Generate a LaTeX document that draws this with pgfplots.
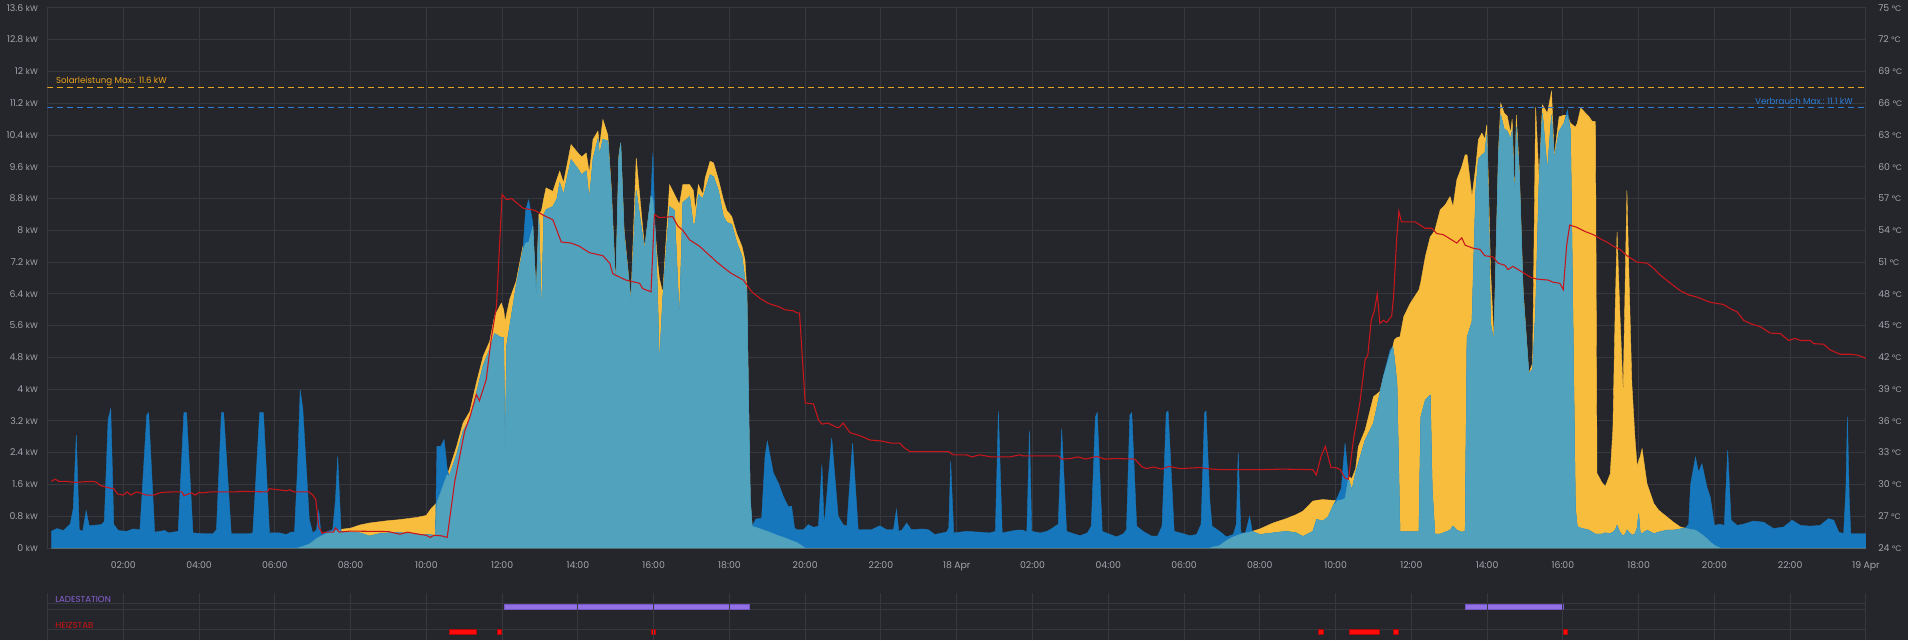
\documentclass[border=0pt]{standalone}
\usepackage{pgfplots}
\pgfplotsset{compat=1.18}
\usepackage{pgfplotstable}
\usepackage{fontspec}
\setmainfont{Poppins}
\definecolor{bg}{HTML}{25262B}
\definecolor{gridc}{HTML}{36383E}
\definecolor{ticktext}{HTML}{A2A5AB}
\definecolor{solar}{HTML}{F9BD3D}
\definecolor{cons}{HTML}{1677BD}
\definecolor{self}{HTML}{50A2BD}
\definecolor{temp}{HTML}{C8161C}
\definecolor{maxsolar}{HTML}{E9A21C}
\definecolor{maxcons}{HTML}{2F7DD5}
\definecolor{ladetext}{HTML}{8A62D6}
\definecolor{ladebar}{HTML}{9470E6}
\definecolor{ladeedge}{HTML}{7358C4}
\definecolor{heiztext}{HTML}{D01212}
\definecolor{heizbar}{HTML}{FF0A0A}
\definecolor{heizedge}{HTML}{B00808}

\pgfplotstableread{
h S C L
0.10 0 0.42 0
0.25 0 0.49 0
0.42 0 0.44 0
0.60 0 0.60 0
0.68 0 1.00 0
0.76 0 2.84 0
0.84 0 0.46 0
0.93 0 0.42 0
1.02 0 0.94 0
1.10 0 0.56 0
1.42 0 0.59 0
1.50 0 0.67 0
1.60 0 3.24 0
1.67 0 3.51 0
1.75 0 0.59 0
1.87 0 0.44 0
2.09 0 0.42 0
2.26 0 0.48 0
2.44 0 0.46 0
2.62 0 3.35 0
2.67 0 3.41 0
2.83 0 0.40 0
3.10 0 0.44 0
3.19 0 0.38 0
3.45 0 0.42 0
3.60 0 3.41 0
3.67 0 3.41 0
3.84 0 0.38 0
4.10 0 0.36 0
4.37 0 0.36 0
4.46 0 0.46 0
4.59 0 3.41 0
4.65 0 3.41 0
4.85 0 0.36 0
5.07 0 0.36 0
5.33 0 0.36 0
5.42 0 0.38 0
5.60 0 3.41 0
5.70 0 3.41 0
5.86 0 0.38 0
6.12 0 0.38 0
6.30 0 0.34 0
6.43 0 0.40 0
6.52 0 0.40 0
6.60 0 2.00 0
6.67 0.02 3.98 0.02
6.74 0.04 3.50 0.04
6.91 0.10 0.72 0.10
7.00 0.16 0.38 0.16
7.10 0.24 0.45 0.24
7.16 0.27 0.93 0.27
7.22 0.30 0.34 0.30
7.35 0.36 0.40 0.36
7.53 0.42 0.46 0.42
7.60 0.44 1.20 0.44
7.66 0.46 2.30 0.46
7.75 0.47 0.42 0.42
8.00 0.50 0.40 0.40
8.25 0.58 0.38 0.38
8.50 0.63 0.30 0.30
8.75 0.66 0.36 0.36
9.00 0.69 0.38 0.38
9.25 0.71 0.40 0.40
9.50 0.74 0.36 0.36
9.75 0.77 0.35 0.35
10.00 0.82 0.34 0.34
10.13 1.00 0.33 0.33
10.24 1.10 0.32 0.32
10.28 1.15 2.56 1.15
10.38 1.40 2.56 1.40
10.47 1.65 2.73 1.65
10.55 1.85 2.00 1.85
10.60 1.97 1.80 1.80
10.80 2.56 2.35 2.35
10.97 3.15 2.95 2.95
11.15 3.44 3.25 3.25
11.32 4.16 3.90 3.90
11.50 4.83 4.60 4.60
11.67 5.20 5.00 5.00
11.80 5.84 5.40 5.40
11.98 6.17 5.30 5.30
12.04 6.00 5.30 5.30
12.08 5.70 2.27 2.27
12.12 5.90 5.10 5.10
12.20 6.26 5.58 5.58
12.37 6.72 6.60 6.60
12.55 7.60 7.50 7.50
12.62 7.68 8.50 7.68
12.70 7.70 8.77 7.70
12.81 8.10 8.19 8.10
12.90 6.40 6.30 6.30
12.97 8.40 8.30 8.30
13.04 8.50 5.80 5.80
13.10 8.80 8.40 8.40
13.16 9.07 8.52 8.52
13.34 8.98 8.60 8.60
13.45 9.30 8.80 8.80
13.52 9.49 9.20 9.20
13.62 9.20 8.90 8.90
13.82 10.16 9.78 9.78
14.00 9.95 9.55 9.55
14.10 9.85 9.40 9.40
14.22 9.95 9.50 9.50
14.30 9.45 8.77 8.77
14.40 10.29 9.80 9.80
14.53 10.50 10.30 10.30
14.57 10.10 9.90 9.90
14.66 10.79 10.29 10.29
14.79 10.40 10.25 10.25
14.88 9.10 9.00 9.00
15.00 6.60 6.50 6.50
15.08 9.87 9.80 9.80
15.13 10.20 10.20 10.20
15.22 8.00 7.90 7.90
15.40 6.26 6.20 6.20
15.54 9.82 9.00 9.00
15.76 7.56 7.50 7.50
15.93 8.86 8.90 8.86
15.98 8.80 9.95 8.80
16.04 8.00 8.00 8.00
16.10 7.26 6.50 6.50
16.15 6.80 4.60 4.60
16.24 6.42 6.30 6.30
16.42 9.15 8.60 8.60
16.55 8.90 8.50 8.50
16.68 8.65 5.75 5.75
16.77 9.15 8.70 8.70
16.95 9.15 8.85 8.85
17.05 9.00 8.10 8.10
17.10 8.50 8.20 8.20
17.18 9.15 8.90 8.90
17.30 8.90 8.80 8.80
17.36 9.32 9.00 9.00
17.49 9.74 9.40 9.40
17.58 9.70 9.35 9.35
17.71 9.28 9.00 9.00
17.84 8.77 8.35 8.35
17.93 8.50 8.20 8.20
18.06 8.35 8.15 8.15
18.19 7.93 7.70 7.70
18.33 7.60 7.35 7.35
18.41 7.26 6.76 6.76
18.46 6.50 6.40 6.40
18.50 4.00 4.00 4.00
18.55 1.20 1.30 1.20
18.60 0.55 0.55 0.55
18.70 0.52 0.73 0.52
18.85 0.47 0.75 0.47
18.94 0.44 2.31 0.44
19.00 0.42 2.69 0.42
19.16 0.36 1.89 0.36
19.29 0.31 1.64 0.31
19.42 0.27 1.30 0.27
19.55 0.22 1.05 0.22
19.64 0.19 1.05 0.19
19.72 0.16 0.50 0.16
19.78 0.14 0.46 0.14
19.95 0.03 0.46 0.03
20.00 0 0.50 0
20.08 0 0.59 0
20.22 0 0.52 0
20.35 0 0.55 0
20.44 0 2.10 0
20.50 0 0.55 0
20.56 0 1.20 0
20.70 0 2.77 0
20.87 0 0.80 0
21.00 0 0.59 0
21.10 0 0.55 0
21.25 0 2.64 0
21.40 0 0.46 0
21.75 0 0.46 0
21.97 0 0.56 0
22.15 0 0.46 0
22.33 0 0.46 0
22.41 0 0.97 0
22.47 0 0.42 0
22.55 0 0.45 0
22.68 0 0.63 0
22.80 0 0.46 0
23.10 0 0.48 0
23.25 0 0.46 0
23.42 0 0.34 0
23.73 0 0.40 0
23.79 0 0.50 0
23.84 0 2.18 0
23.92 0 0.38 0
24.26 0 0.42 0
24.60 0 0.40 0
24.87 0 0.38 0
25.02 0 0.42 0
25.10 0 3.44 0
25.20 0 0.38 0
25.58 0 0.45 0
25.75 0 0.45 0
25.85 0 0.40 0
25.92 0 2.95 0
25.98 0 0.42 0
26.20 0 0.38 0
26.38 0 0.42 0
26.51 0 0.49 0
26.68 0 0.60 0
26.77 0 3.00 0
26.90 0 0.42 0
27.08 0 0.36 0
27.26 0 0.31 0
27.45 0 0.38 0
27.55 0 0.55 0
27.66 0 3.30 0
27.71 0 3.41 0
27.84 0 0.42 0
28.00 0 0.36 0
28.22 0 0.28 0
28.40 0 0.36 0
28.48 0 0.46 0
28.57 0 3.35 0
28.62 0 3.41 0
28.75 0 0.55 0
28.92 0 0.42 0
29.14 0 0.30 0
29.30 0 0.30 0
29.42 0 0.55 0
29.53 0 3.40 0
29.58 0 3.45 0
29.74 0 0.42 0
29.98 0 0.36 0
30.15 0 0.31 0
30.33 0 0.34 0
30.45 0 0.60 0
30.54 0 3.40 0
30.58 0 3.45 0
30.68 0 1.20 0
30.74 0.02 0.55 0.02
30.94 0.06 0.42 0.06
31.12 0.19 0.28 0.19
31.30 0.28 0.34 0.28
31.38 0.31 0.60 0.31
31.43 0.33 2.40 0.33
31.50 0.35 0.38 0.35
31.62 0.38 0.38 0.38
31.73 0.40 0.80 0.40
31.80 0.42 0.42 0.42
32.00 0.48 0.34 0.34
32.35 0.63 0.38 0.38
32.70 0.74 0.42 0.42
32.96 0.84 0.38 0.38
33.14 0.93 0.29 0.29
33.40 1.18 0.42 0.42
33.50 1.20 0.72 0.72
33.66 1.22 0.68 0.68
33.80 1.21 0.78 0.78
33.93 1.20 1.05 1.05
34.06 1.20 1.30 1.20
34.15 1.21 1.50 1.21
34.25 1.25 2.64 1.25
34.34 1.80 1.75 1.75
34.43 1.75 1.46 1.46
34.53 2.00 1.90 1.90
34.60 2.55 2.13 2.13
34.78 2.97 2.72 2.72
35.00 3.81 3.14 3.14
35.17 3.94 3.90 3.90
35.26 4.30 4.32 4.30
35.44 4.90 4.99 4.90
35.51 5.07 5.07 5.07
35.55 5.24 4.80 4.80
35.62 5.30 4.15 4.15
35.70 5.32 0.41 0.41
35.80 5.83 0.41 0.41
35.97 6.16 0.41 0.41
36.20 6.50 0.41 0.41
36.25 6.70 3.30 3.30
36.37 7.34 3.73 3.73
36.50 7.84 3.85 3.85
36.55 7.90 1.50 1.50
36.62 8.00 0.35 0.35
36.76 8.51 0.35 0.35
36.90 8.65 0.40 0.40
37.02 8.85 0.45 0.45
37.10 8.60 0.55 0.55
37.20 9.27 0.45 0.45
37.33 9.60 0.40 0.40
37.42 9.90 0.42 0.42
37.47 9.90 5.30 5.30
37.60 8.85 5.70 5.70
37.70 9.60 9.00 9.00
37.77 10.28 9.80 9.80
37.86 10.45 9.90 9.90
37.94 10.30 9.95 9.95
37.99 10.65 10.40 10.40
38.04 9.00 8.50 8.50
38.09 7.00 5.66 5.66
38.18 5.24 5.20 5.20
38.30 10.00 9.90 9.90
38.36 11.20 10.90 10.90
38.45 10.95 10.55 10.55
38.53 10.88 10.50 10.50
38.62 10.45 10.30 10.30
38.66 10.80 10.50 10.50
38.73 8.77 8.70 8.70
38.77 10.90 10.60 10.60
38.85 9.50 9.40 9.40
38.95 6.50 6.40 6.40
39.10 4.40 4.40 4.40
39.20 4.65 4.50 4.50
39.28 11.10 6.00 6.00
39.37 9.27 9.20 9.20
39.46 11.16 10.95 10.95
39.59 10.95 9.50 9.50
39.70 11.50 10.90 10.90
39.77 9.86 9.80 9.80
39.90 10.86 10.50 10.50
40.03 10.90 10.70 10.70
40.12 10.90 11.03 10.90
40.20 10.70 10.50 10.50
40.33 10.60 1.00 1.00
40.38 10.70 0.54 0.54
40.47 11.08 0.50 0.50
40.69 10.86 0.45 0.45
40.77 10.75 0.40 0.40
40.86 10.74 0.35 0.35
40.90 1.88 0.35 0.35
41.03 1.65 0.35 0.35
41.12 1.55 0.38 0.38
41.25 1.87 0.36 0.36
41.32 3.00 0.40 0.40
41.38 6.00 0.45 0.45
41.43 7.96 0.57 0.57
41.50 6.00 0.40 0.40
41.59 3.89 0.30 0.30
41.65 7.00 0.35 0.35
41.69 9.00 0.45 0.45
41.74 7.00 0.40 0.40
41.82 4.14 0.32 0.32
41.90 2.80 0.35 0.35
41.96 2.04 0.50 0.50
42.00 2.20 0.86 0.86
42.04 2.30 0.40 0.40
42.09 2.50 0.36 0.36
42.22 1.62 0.45 0.45
42.40 1.12 0.36 0.36
42.53 0.95 0.40 0.40
42.75 0.78 0.45 0.45
42.92 0.65 0.45 0.45
43.10 0.53 0.48 0.48
43.23 0.50 0.50 0.50
43.32 0.48 0.60 0.48
43.37 0.47 1.60 0.47
43.50 0.45 2.29 0.45
43.58 0.40 1.91 0.40
43.67 0.34 2.12 0.34
43.80 0.24 1.54 0.24
43.89 0.15 1.28 0.15
44.00 0.07 0.57 0.07
44.15 0 0.60 0
44.26 0 0.57 0
44.35 0 2.46 0
44.44 0 0.70 0
44.60 0 0.57 0
44.77 0 0.60 0
45.03 0 0.68 0
45.30 0 0.65 0
45.56 0 0.49 0
45.83 0 0.53 0
46.05 0 0.70 0
46.27 0 0.57 0
46.53 0 0.55 0
46.79 0 0.57 0
47.01 0 0.74 0
47.15 0 0.70 0
47.28 0 0.40 0
47.41 0 0.36 0
47.47 0 1.50 0
47.51 0 3.30 0
47.56 0 1.20 0
47.60 0 0.36 0
48.00 0 0.36 0
}\powerdata

\pgfplotstableread{
h T
0.10 30.3
0.20 30.5
0.30 30.3
0.50 30.3
0.70 30.2
1.20 30.3
1.30 30.2
1.40 29.9
1.60 29.7
1.75 29.6
1.85 29.1
2.00 29.0
2.10 29.3
2.20 29.0
2.35 29.3
2.45 29.2
2.60 29.0
2.80 29.0
3.00 29.25
3.30 29.3
3.55 29.3
3.60 28.95
3.80 29.2
3.90 29.0
4.00 29.25
4.10 29.2
4.30 29.3
5.00 29.3
5.10 29.35
5.80 29.3
5.85 29.6
6.10 29.5
6.30 29.4
6.40 29.5
6.50 29.3
6.90 29.3
7.00 29.0
7.08 28.6
7.16 26.0
7.25 25.4
7.35 25.5
7.55 25.5
7.60 25.9
7.70 25.5
8.00 25.6
9.00 25.55
9.30 25.3
9.50 25.5
9.80 25.3
10.00 25.2
10.10 25.0
10.20 25.2
10.40 25.15
10.55 25.0
10.75 30.3
11.01 35.0
11.15 36.4
11.32 38.5
11.40 37.9
11.58 39.9
11.71 43.7
11.85 46.8
12.00 57.4
12.11 56.9
12.25 57.0
12.55 56.1
12.85 55.9
13.16 55.3
13.34 55.0
13.56 52.9
13.82 52.8
14.04 52.5
14.30 51.9
14.66 51.6
14.84 50.9
14.92 49.9
15.27 49.3
15.63 49.0
15.71 48.5
15.93 48.2
16.02 55.5
16.15 55.2
16.50 55.3
16.64 54.4
16.77 54.0
16.95 53.1
17.21 52.5
17.67 51.0
18.02 50.0
18.37 49.3
18.59 48.2
18.80 47.6
19.03 47.1
19.29 46.8
19.47 46.5
19.69 46.4
19.78 46.2
19.85 46.2
20.00 37.7
20.22 37.6
20.35 36.1
20.44 35.7
20.60 35.8
20.83 35.4
20.90 35.4
21.00 35.8
21.18 34.9
21.45 34.6
21.71 34.2
22.02 34.1
22.28 33.9
22.50 33.9
22.60 33.5
22.77 33.1
23.12 33.1
23.78 33.1
23.91 32.8
24.26 32.8
24.40 32.6
24.60 32.8
24.92 32.6
25.40 32.6
25.66 32.8
25.76 32.7
26.68 32.7
26.77 32.4
27.00 32.45
27.20 32.6
27.40 32.4
27.70 32.65
27.90 32.4
28.20 32.45
28.70 32.4
28.88 31.7
29.00 31.5
29.20 31.65
29.40 31.45
29.60 31.7
29.90 31.5
30.42 31.6
30.60 31.5
30.94 31.4
32.00 31.4
32.60 31.45
33.40 31.4
33.49 30.9
33.62 32.7
33.73 33.6
33.88 31.6
34.00 31.6
34.12 31.4
34.25 30.6
34.34 30.5
34.47 34.2
34.64 37.7
34.78 41.8
34.85 42.2
34.94 45.5
35.03 46.5
35.10 48.0
35.17 45.2
35.26 45.5
35.35 45.3
35.48 45.9
35.53 47.7
35.61 53.1
35.67 55.8
35.74 54.8
36.10 54.8
36.23 54.5
36.36 54.2
36.54 54.2
36.67 53.7
36.84 53.6
37.02 53.2
37.20 52.8
37.33 53.3
37.42 52.6
37.64 52.3
37.81 52.2
37.94 51.6
38.15 51.5
38.29 50.9
38.47 50.7
38.55 50.3
38.68 50.6
38.91 50.1
39.13 49.6
39.31 49.4
39.62 49.3
39.74 49.1
39.92 49.0
40.01 48.4
40.10 52.6
40.18 54.5
40.36 54.3
40.58 53.9
40.80 53.6
40.99 53.2
41.16 52.9
41.33 52.5
41.51 52.2
41.69 51.6
41.96 51.0
42.22 50.9
42.40 50.4
42.53 49.9
42.84 49.0
43.10 48.3
43.32 47.9
43.54 47.7
43.89 47.2
44.24 47.0
44.42 46.6
44.60 46.3
44.77 45.5
44.95 45.2
45.21 44.9
45.47 44.3
45.74 44.25
45.96 43.6
46.13 43.8
46.27 43.6
46.53 43.6
46.62 43.3
46.88 43.25
47.06 42.7
47.32 42.3
47.59 42.3
47.80 42.2
48.00 41.9
}\tempdata

\begin{document}
\begin{tikzpicture}
\path[use as bounding box, fill=bg] (-35.625pt,-69pt) rectangle (1395.375pt,411pt);

% ---------- main power axis ----------
\begin{axis}[
  at={(0pt,0pt)}, anchor=south west,
  scale only axis, width=1363.875pt, height=405pt,
  xmin=0, xmax=48, ymin=0, ymax=13.6,
  axis line style={draw=gridc, line width=0.75pt},
  grid=major, grid style={draw=gridc, line width=0.75pt},
  tick style={draw=none},
  xtick={2,4,6,8,10,12,14,16,18,20,22,24,26,28,30,32,34,36,38,40,42,44,46,48},
  xticklabels={02:00,04:00,06:00,08:00,10:00,12:00,14:00,16:00,18:00,20:00,22:00,18 Apr,02:00,04:00,06:00,08:00,10:00,12:00,14:00,16:00,18:00,20:00,22:00,19 Apr},
  ytick={0,0.8,1.6,2.4,3.2,4,4.8,5.6,6.4,7.2,8,8.8,9.6,10.4,11.2,12,12.8,13.6},
  yticklabel={\pgfmathprintnumber[fixed,precision=1,assume math mode=true]{\tick}\hspace{2pt}{\fontsize{6pt}{6pt}\selectfont kW}},
  ticklabel style={font=\fontsize{7pt}{7pt}\selectfont, text=ticktext, inner sep=0pt},
  xticklabel style={anchor=base, yshift=-15pt},
  yticklabel style={anchor=base east, xshift=-7pt, yshift=-2.4pt},
]
\addplot[fill=solar, draw=solar, line width=0.3pt] table[x=h,y=S]{\powerdata} \closedcycle;
\addplot[fill=cons, draw=cons, line width=0.3pt] table[x=h,y=C]{\powerdata} \closedcycle;
\addplot[fill=self, draw=self, line width=0.3pt] table[x=h,y=L]{\powerdata} \closedcycle;
\addplot[maxsolar, line width=0.75pt, dash pattern=on 4.5pt off 3pt] coordinates {(0,11.6) (48,11.6)};
\addplot[maxcons, line width=0.75pt, dash pattern=on 4.5pt off 3pt] coordinates {(0,11.1) (48,11.1)};
\node[anchor=west, text=maxsolar, inner sep=0pt, font=\fontsize{6.5pt}{6.5pt}\selectfont] at (axis cs:0.22,11.75) {Solarleistung Max.: 11.6 kW};
\node[anchor=east, text=maxcons, inner sep=0pt, font=\fontsize{6.5pt}{6.5pt}\selectfont] at (axis cs:47.66,11.25) {Verbrauch Max.: 11.1 kW};
\end{axis}

% ---------- temperature axis ----------
\begin{axis}[
  at={(0pt,0pt)}, anchor=south west,
  scale only axis, width=1363.875pt, height=405pt,
  xmin=0, xmax=48, ymin=24, ymax=75,
  axis x line=none, axis y line*=right,
  axis line style={draw=none},
  tick style={draw=none},
  ytick={24,27,30,33,36,39,42,45,48,51,54,57,60,63,66,69,72,75},
  yticklabel={\pgfmathprintnumber[assume math mode=true]{\tick}\hspace{2pt}{\fontsize{6pt}{6pt}\selectfont °C}},
  ticklabel style={font=\fontsize{7pt}{7pt}\selectfont, text=ticktext, inner sep=0pt},
  yticklabel style={anchor=base west, xshift=9pt, yshift=-2.4pt},
]
\addplot[temp, line width=0.8pt] table[x=h,y=T]{\tempdata};
\end{axis}

% ---------- status rows ----------
\begin{axis}[
  at={(0pt,-69pt)}, anchor=south west,
  scale only axis, width=1363.875pt, height=35pt,
  xmin=0, xmax=48, ymin=-640, ymax=-593.3,
  axis line style={draw=none},
  axis on top,
  xmajorgrids, grid style={draw=gridc, line width=0.75pt},
  tick style={draw=none},
  xtick={0,2,4,6,8,10,12,14,16,18,20,22,24,26,28,30,32,34,36,38,40,42,44,46,48},
  xticklabels={}, ytick=\empty,
]
\addplot[gridc, line width=0.75pt] coordinates {(0,-603.3) (48,-603.3)};
\addplot[gridc, line width=0.75pt] coordinates {(0,-609.3) (48,-609.3)};
\addplot[gridc, line width=0.75pt] coordinates {(0,-629.3) (48,-629.3)};
\addplot[fill=ladebar, draw=ladeedge, line width=0.5pt] coordinates {(12.07,-609) (12.07,-604.4) (18.52,-604.4) (18.52,-609)} -- cycle;
\addplot[fill=ladebar, draw=ladeedge, line width=0.5pt] coordinates {(37.43,-609) (37.43,-604.4) (40.02,-604.4) (40.02,-609)} -- cycle;
\addplot[fill=heizbar, draw=heizedge, line width=0.4pt] coordinates {(10.60,-634.3) (10.60,-629.5) (11.31,-629.5) (11.31,-634.3)} -- cycle;
\addplot[fill=heizbar, draw=heizedge, line width=0.4pt] coordinates {(11.87,-634.3) (11.87,-629.5) (11.97,-629.5) (11.97,-634.3)} -- cycle;
\addplot[fill=heizbar, draw=heizedge, line width=0.4pt] coordinates {(15.93,-634.3) (15.93,-629.5) (16.03,-629.5) (16.03,-634.3)} -- cycle;
\addplot[fill=heizbar, draw=heizedge, line width=0.4pt] coordinates {(33.55,-634.3) (33.55,-629.5) (33.68,-629.5) (33.68,-634.3)} -- cycle;
\addplot[fill=heizbar, draw=heizedge, line width=0.4pt] coordinates {(34.35,-634.3) (34.35,-629.5) (35.15,-629.5) (35.15,-634.3)} -- cycle;
\addplot[fill=heizbar, draw=heizedge, line width=0.4pt] coordinates {(35.53,-634.3) (35.53,-629.5) (35.65,-629.5) (35.65,-634.3)} -- cycle;
\addplot[fill=heizbar, draw=heizedge, line width=0.4pt] coordinates {(40.02,-634.3) (40.02,-629.5) (40.11,-629.5) (40.11,-634.3)} -- cycle;
\node[anchor=west, text=ladetext, inner sep=0pt, font=\fontsize{6.5pt}{6.5pt}\selectfont] at (axis cs:0.2,-599) {LADESTATION};
\node[anchor=west, text=heiztext, inner sep=0pt, font=\fontsize{6.5pt}{6.5pt}\selectfont] at (axis cs:0.2,-625) {HEIZSTAB};
\end{axis}
\end{tikzpicture}
\end{document}
